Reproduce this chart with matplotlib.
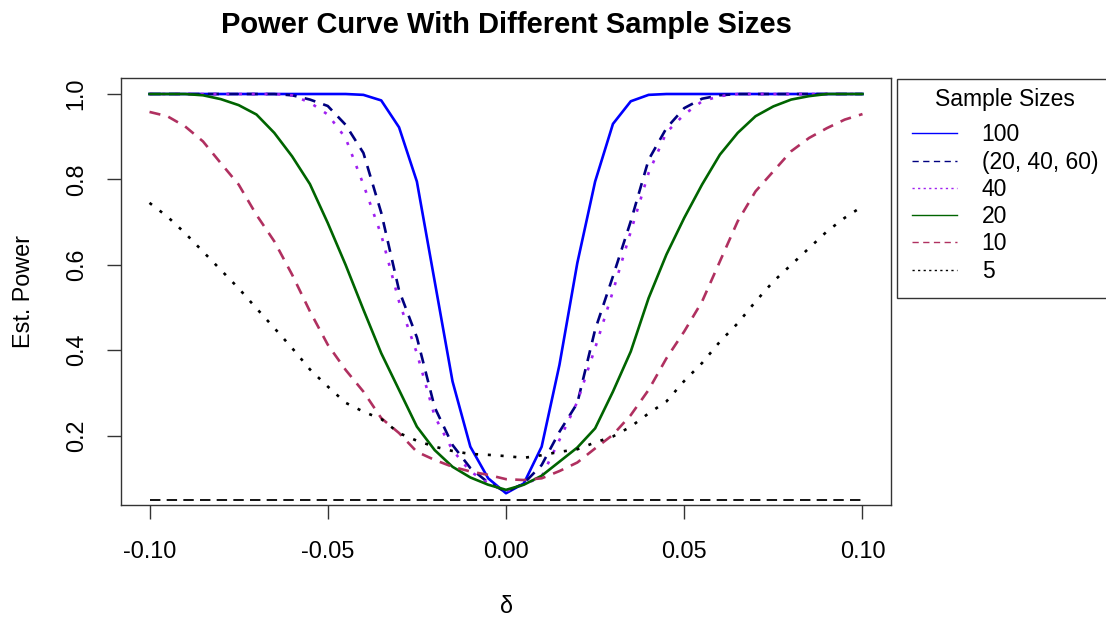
import matplotlib
matplotlib.use("Agg")
import matplotlib.pyplot as plt
from matplotlib.lines import Line2D

plt.rcParams['font.family'] = ['Liberation Sans', 'DejaVu Sans']
plt.rcParams['lines.scale_dashes'] = False

# ---- data ----
delta = [-0.100, -0.095, -0.090, -0.085, -0.080, -0.075, -0.070, -0.065, -0.060, -0.055,
         -0.050, -0.045, -0.040, -0.035, -0.030, -0.025, -0.020, -0.015, -0.010, -0.005,
         0.000, 0.005, 0.010, 0.015, 0.020, 0.025, 0.030, 0.035, 0.040, 0.045,
         0.050, 0.055, 0.060, 0.065, 0.070, 0.075, 0.080, 0.085, 0.090, 0.095, 0.100]

power_100 = [1.0, 1.0, 1.0, 1.0, 1.0, 1.0, 1.0, 1.0, 1.0, 1.0,
             1.0, 1.0, 0.998, 0.985, 0.922, 0.795, 0.561, 0.327, 0.174, 0.100,
             0.065, 0.088, 0.174, 0.366, 0.604, 0.795, 0.930, 0.983, 0.998, 1.0,
             1.0, 1.0, 1.0, 1.0, 1.0, 1.0, 1.0, 1.0, 1.0, 1.0, 1.0]

power_20_40_60 = [1.0, 1.0, 1.0, 1.0, 1.0, 1.0, 1.0, 1.0, 0.997, 0.987,
                  0.972, 0.928, 0.862, 0.722, 0.540, 0.430, 0.266, 0.178, 0.124, 0.090,
                  0.068, 0.088, 0.131, 0.209, 0.276, 0.448, 0.573, 0.702, 0.846, 0.920,
                  0.967, 0.989, 0.997, 1.0, 1.0, 1.0, 1.0, 1.0, 1.0, 1.0, 1.0]

power_40 = [1.0, 1.0, 1.0, 1.0, 1.0, 1.0, 1.0, 1.0, 0.997, 0.980,
            0.952, 0.897, 0.788, 0.670, 0.514, 0.393, 0.245, 0.166, 0.116, 0.089,
            0.070, 0.085, 0.104, 0.190, 0.279, 0.405, 0.538, 0.678, 0.815, 0.910,
            0.952, 0.983, 0.995, 1.0, 1.0, 1.0, 1.0, 1.0, 1.0, 1.0, 1.0]

power_20 = [1.0, 1.0, 1.0, 0.997, 0.988, 0.974, 0.952, 0.909, 0.854, 0.789,
            0.698, 0.600, 0.495, 0.393, 0.307, 0.221, 0.166, 0.127, 0.102, 0.085,
            0.073, 0.085, 0.106, 0.139, 0.172, 0.217, 0.303, 0.397, 0.522, 0.624,
            0.710, 0.788, 0.858, 0.909, 0.948, 0.971, 0.987, 0.995, 1.0, 1.0, 1.0]

power_10 = [0.958, 0.948, 0.924, 0.889, 0.838, 0.788, 0.717, 0.655, 0.577, 0.491,
            0.413, 0.354, 0.303, 0.241, 0.206, 0.162, 0.143, 0.127, 0.116, 0.108,
            0.098, 0.096, 0.100, 0.117, 0.137, 0.170, 0.202, 0.248, 0.307, 0.381,
            0.444, 0.514, 0.608, 0.702, 0.772, 0.819, 0.866, 0.897, 0.920, 0.940, 0.953]

power_5 = [0.745, 0.713, 0.674, 0.631, 0.588, 0.545, 0.498, 0.452, 0.405, 0.355,
           0.315, 0.277, 0.256, 0.239, 0.206, 0.188, 0.174, 0.164, 0.157, 0.155,
           0.152, 0.148, 0.154, 0.162, 0.168, 0.184, 0.198, 0.221, 0.252, 0.280,
           0.328, 0.370, 0.420, 0.463, 0.514, 0.561, 0.600, 0.639, 0.678, 0.710, 0.737]

alpha_level = [0.05] * len(delta)

labels = ["100", "(20, 40, 60)", "40", "20", "10", "5"]
colors = ["#0000FF", "#000080", "#A020F0", "#006400", "#B03060", "#000000"]

yticks = [0.2, 0.4, 0.6, 0.8, 1.0]
yticklabels = ["0.2", "0.4", "0.6", "0.8", "1.0"]
xticks = [-0.10, -0.05, 0.00, 0.05, 0.10]
xticklabels = ["-0.10", "-0.05", "0.00", "0.05", "0.10"]

# ---- figure ----
W, H = 1106, 618
fig = plt.figure(figsize=(W / 100, H / 100), dpi=100)
ax = fig.add_axes([121 / W, 1 - 505 / H, (891 - 121) / W, (505 - 78) / H])

dash = (0, (8, 6))
dot = (0, (2.2, 7))
styles = ['-', dash, dot, '-', dash, dot]
series = [power_100, power_20_40_60, power_40, power_20, power_10, power_5]

for vals, c, ls in zip(series, colors, styles):
    ax.plot(delta, vals, color=c, linestyle=ls, linewidth=1.9)

ax.plot(delta, alpha_level, color='black', linestyle=(0, (7.5, 4.5)), linewidth=1.3)

ax.set_xlim(-0.108, 0.108)
ax.set_ylim(0.0375, 1.0375)
ax.set_xticks(xticks)
ax.set_xticklabels(xticklabels)
ax.set_yticks(yticks)
ax.set_yticklabels(yticklabels)
ax.tick_params(axis='both', labelsize=16.8, length=10, width=1.0, color='#333333')
ax.tick_params(axis='x', pad=15)
ax.tick_params(axis='y', pad=14, labelrotation=90)
for lab in ax.get_yticklabels():
    lab.set_va('center')
for s in ax.spines.values():
    s.set_linewidth(1.0)
    s.set_color('#333333')

ax.set_title("Power Curve With Different Sample Sizes", fontsize=21,
             fontweight='bold', pad=32.5)
ax.set_xlabel("δ", fontsize=16.8, labelpad=23)
ax.set_ylabel("Est. Power", fontsize=16.8, labelpad=21)

handles = [Line2D([], [], color=c, linestyle=ls if ls == '-' else
                  ((0, (4.5, 3.2)) if ls == dash else (0, (1.6, 2.4))), linewidth=1.0)
           for c, ls in zip(colors, styles)]
leg = ax.legend(handles, labels, title="Sample Sizes", loc='upper left',
                bbox_to_anchor=(897 / W, 1 - 79 / H), bbox_transform=fig.transFigure,
                fontsize=16.5, title_fontsize=16.5, frameon=True, fancybox=False,
                handlelength=1.95, handletextpad=1.07, borderpad=0.4,
                labelspacing=0.185, borderaxespad=0)
leg._legend_box.sep = 4.3
leg._legend_handle_box.pad = 4.5
leg.get_frame().set_edgecolor('black')
leg.get_frame().set_linewidth(1.0)

fig.savefig("out.png", dpi=100)
